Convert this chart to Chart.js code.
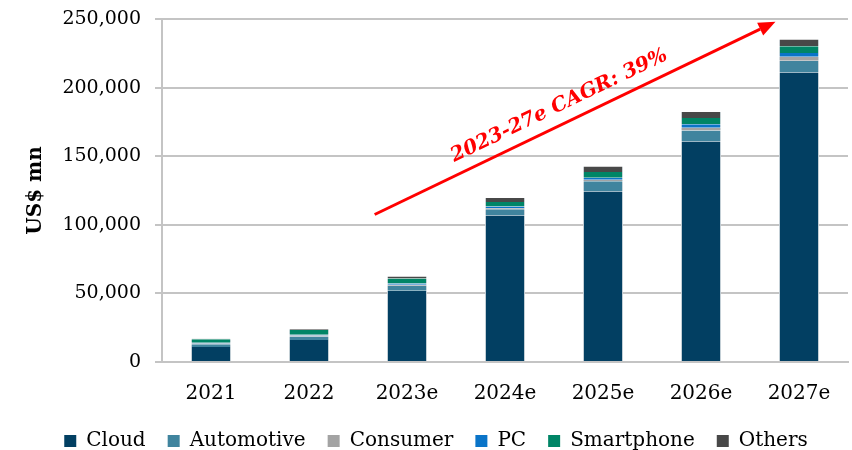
<!DOCTYPE html>
<html>
<head>
<meta charset="utf-8">
<script src="https://cdn.jsdelivr.net/npm/chart.js@4/dist/chart.umd.min.js"></script>
<style>
  html, body { margin: 0; padding: 0; background: #fff; }
  #wrap { width: 852px; height: 450px; }
</style>
</head>
<body>
<div id="wrap"><canvas id="chart" width="852" height="450"></canvas></div>
<script>
// values, US$ mn
const years = ['2021', '2022', '2023e', '2024e', '2025e', '2026e', '2027e'];
const cloud = [11000, 16000, 52000, 106700, 124300, 160800, 211000];
const automotive = [2000, 2500, 3500, 4600, 7500, 8000, 8500];
const consumer = [500, 800, 800, 700, 1000, 2000, 2900];
const pc = [500, 500, 1000, 1400, 1500, 2400, 2900];
const smartphone = [2500, 3500, 3500, 3200, 4100, 4600, 4900];
const others = [500, 500, 1500, 3000, 4100, 4400, 4900];
const yTicks = [0, 50000, 100000, 150000, 200000, 250000];

// arrow annotation: [category index, value]
const arrowFrom = [1.67, 107500];
const arrowTo = [5.76, 248000];
const cagrText = '2023-27e CAGR: 39%';

const FONT = "'DejaVu Serif', 'Liberation Serif', serif";
const edge = { left: 1, right: 1, top: 0, bottom: 0 };

function series(label, data, color) {
	return {
		label: label,
		data: data,
		backgroundColor: color,
		borderColor: '#d3dbe0',
		borderWidth: edge,
		borderSkipped: false,
		categoryPercentage: 1,
		barPercentage: 0.41,
	};
}

const cagrArrow = {
	id: 'cagrArrow',
	afterDatasetsDraw( chart ) {
		const { ctx, scales } = chart;
		const x1 = scales.x.getPixelForValue( arrowFrom[0] );
		const y1 = scales.y.getPixelForValue( arrowFrom[1] );
		const x2 = scales.x.getPixelForValue( arrowTo[0] );
		const y2 = scales.y.getPixelForValue( arrowTo[1] );
		const ang = Math.atan2( y2 - y1, x2 - x1 );
		const head = 17;

		ctx.save();
		ctx.strokeStyle = '#ff0000';
		ctx.fillStyle = '#ff0000';
		ctx.lineWidth = 3;
		ctx.beginPath();
		ctx.moveTo( x1, y1 );
		ctx.lineTo( x2 - head * Math.cos( ang ), y2 - head * Math.sin( ang ) );
		ctx.stroke();

		ctx.beginPath();
		ctx.moveTo( x2, y2 );
		ctx.lineTo( x2 - head * Math.cos( ang ) + 7 * Math.sin( ang ), y2 - head * Math.sin( ang ) - 7 * Math.cos( ang ) );
		ctx.lineTo( x2 - head * Math.cos( ang ) - 7 * Math.sin( ang ), y2 - head * Math.sin( ang ) + 7 * Math.cos( ang ) );
		ctx.closePath();
		ctx.fill();

		// label sits above the line, about mid way
		const t = 0.48;
		const mx = x1 + ( x2 - x1 ) * t + 18 * Math.sin( ang );
		const my = y1 + ( y2 - y1 ) * t - 18 * Math.cos( ang );
		ctx.translate( mx, my );
		ctx.rotate( ang );
		ctx.font = "italic bold 20px " + FONT;
		ctx.textAlign = 'center';
		ctx.textBaseline = 'middle';
		ctx.fillText( cagrText, 0, 0 );
		ctx.restore();
	},
};

new Chart( document.getElementById( 'chart' ), {
	type: 'bar',
	data: {
		labels: years,
		datasets: [
			series( 'Cloud', cloud, '#023f62' ),
			series( 'Automotive', automotive, '#40849e' ),
			series( 'Consumer', consumer, '#a3a3a3' ),
			series( 'PC', pc, '#0a74c8' ),
			series( 'Smartphone', smartphone, '#008566' ),
			series( 'Others', others, '#484848' ),
		],
	},
	options: {
		responsive: false,
		animation: false,
		layout: { padding: { left: 24, right: 4, top: 0, bottom: -11 } },
		plugins: {
			tooltip: { enabled: false },
			legend: {
				position: 'bottom',
				labels: {
					color: '#000',
					font: { family: FONT, size: 20 },
					boxWidth: 12,
					boxHeight: 12,
					padding: 22,
					generateLabels( chart ) {
						return chart.data.datasets.map( ( ds, i ) => ( {
							text: ds.label,
							fillStyle: ds.backgroundColor,
							strokeStyle: ds.backgroundColor,
							lineWidth: 0,
							datasetIndex: i,
						} ) );
					},
				},
			},
		},
		scales: {
			x: {
				stacked: true,
				grid: { display: false, drawTicks: false },
				border: { color: '#c4c4c4', width: 2 },
				ticks: { color: '#000', font: { family: FONT, size: 20 }, padding: 20 },
				afterFit( scale ) {
					scale.height -= 17;
				},
			},
			y: {
				stacked: true,
				min: 0,
				max: 250000,
				afterBuildTicks( scale ) {
					scale.ticks = yTicks.map( v => ( { value: v } ) );
				},
				afterFit( scale ) {
					scale.width = 138;
					scale.paddingTop = 19;
				},
				grid: { color: '#c4c4c4', lineWidth: 2, tickLength: 7 },
				border: { color: '#c4c4c4', width: 2 },
				ticks: {
					color: '#000',
					font: { family: FONT, size: 19 },
					padding: 14,
					callback: v => v.toLocaleString( 'en-US' ),
				},
				title: {
					display: true,
					text: 'US$ mn',
					color: '#000',
					font: { family: FONT, size: 20, weight: 'bold' },
					padding: 0,
				},
			},
		},
	},
	plugins: [ cagrArrow ],
} );
</script>
</body>
</html>
